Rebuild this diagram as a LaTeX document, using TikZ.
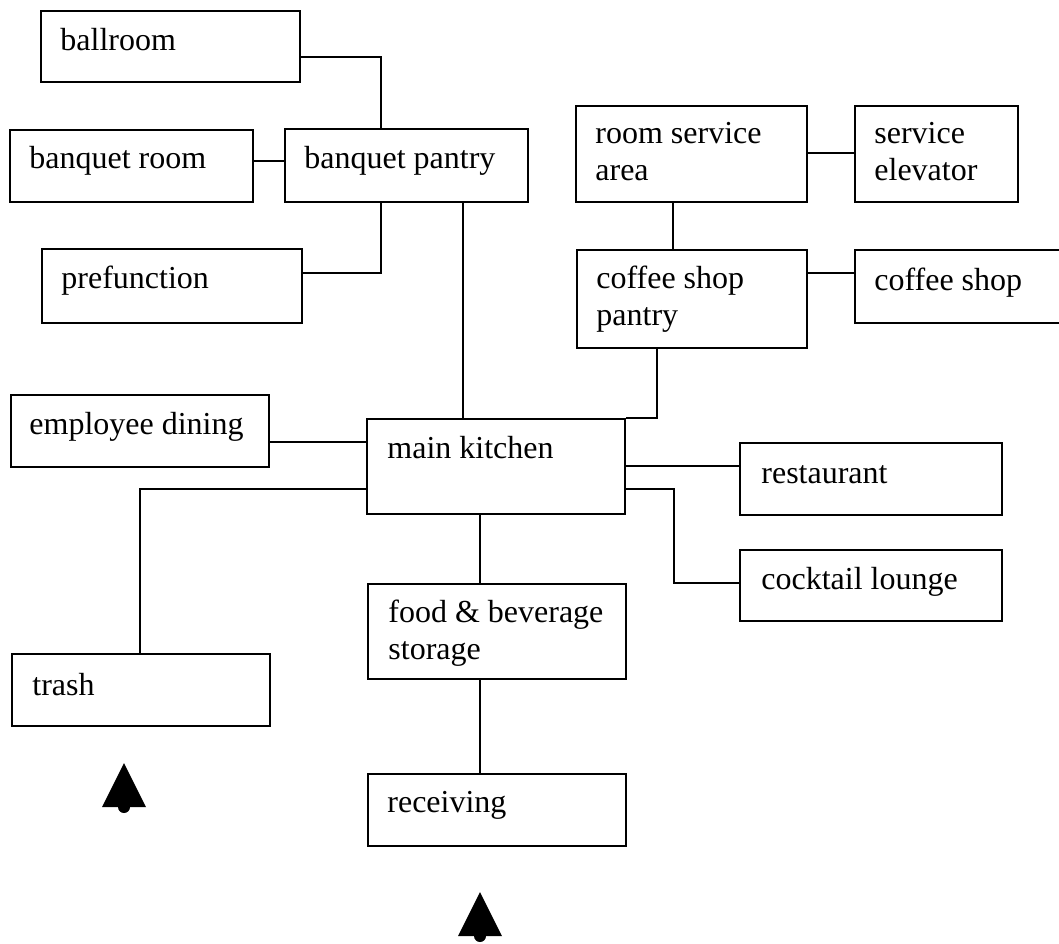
\documentclass[tikz,border=0pt]{standalone}
\usepackage{fontspec}
\setmainfont{Liberation Serif}
\usetikzlibrary{calc}

\tikzset{
  room/.style={draw, line width=1.2pt, anchor=north west, inner sep=0pt},
  tag/.style={anchor=north west, inner sep=0pt, align=left, font=\fontsize{16}{18.5}\selectfont},
  link/.style={line width=1pt}
}

\begin{document}
\begin{tikzpicture}[x=0.5pt,y=-0.5pt]
      \useasboundingbox (0,0) rectangle (1059,943);
      \clip (0,0) rectangle (1059,943);

      % Rooms
      \node[room, minimum width=129.5pt, minimum height=35.5pt] (ballroom) at (40,10) {};
      \node[room, minimum width=121.5pt, minimum height=36pt] (banqroom) at (9,129) {};
      \node[room, minimum width=121.5pt, minimum height=36.5pt] (banqpantry) at (284,128) {};
      \node[room, minimum width=130pt, minimum height=37pt] (prefunc) at (41,248) {};
      \node[room, minimum width=115.5pt, minimum height=48pt] (roomserv) at (575,105) {};
      \node[room, minimum width=81.5pt, minimum height=48pt] (elevator) at (854,105) {};
      \node[room, minimum width=115pt, minimum height=49pt] (shoppantry) at (576,249) {};
      \node[room, minimum width=110pt, minimum height=36.5pt] (coffeeshop) at (854,249) {};
      \node[room, minimum width=129pt, minimum height=36pt] (empdining) at (10,394) {};
      \node[room, minimum width=129pt, minimum height=47.5pt] (kitchen) at (366,418) {};
      \node[room, minimum width=131pt, minimum height=36pt] (restaurant) at (739,442) {};
      \node[room, minimum width=131pt, minimum height=35.5pt] (cocktail) at (739,549) {};
      \node[room, minimum width=129pt, minimum height=47.5pt] (storage) at (367,583) {};
      \node[room, minimum width=129pt, minimum height=36pt] (trash) at (11,653) {};
      \node[room, minimum width=129pt, minimum height=36pt] (receiving) at (367,773) {};

      % Labels
      \node[tag] (ballroomT) at ($(ballroom.north west)+(20,14)$) {\strut ballroom};
      \node[tag] (banqroomT) at ($(banqroom.north west)+(20,13)$) {\strut banquet room};
      \node[tag] (banqpantryT) at ($(banqpantry.north west)+(20,14)$) {\strut banquet pantry};
      \node[tag] (prefuncT) at ($(prefunc.north west)+(20,14)$) {\strut prefunction};
      \node[tag] (roomservT) at ($(roomserv.north west)+(20,12)$) {\strut room service\\\strut area};
      \node[tag] (elevatorT) at ($(elevator.north west)+(20,12)$) {\strut service\\\strut elevator};
      \node[tag] (shoppantryT) at ($(shoppantry.north west)+(20,13)$) {\strut coffee shop\\\strut pantry};
      \node[tag] (coffeeshopT) at ($(coffeeshop.north west)+(20,15)$) {\strut coffee shop};
      \node[tag] (empdiningT) at ($(empdining.north west)+(19,14)$) {\strut employee dining};
      \node[tag] (kitchenT) at ($(kitchen.north west)+(21,14)$) {\strut main kitchen};
      \node[tag] (restaurantT) at ($(restaurant.north west)+(22,15)$) {\strut restaurant};
      \node[tag] (cocktailT) at ($(cocktail.north west)+(22,14)$) {\strut cocktail lounge};
      \node[tag] (storageT) at ($(storage.north west)+(21,13)$) {\strut food \& beverage\\\strut storage};
      \node[tag] (trashT) at ($(trash.north west)+(21,16)$) {\strut trash};
      \node[tag] (receivingT) at ($(receiving.north west)+(20,13)$) {\strut receiving};

      % Banquet side
      \draw[link] (ballroom.east |- 0,57) -| (381,0 |- banqpantry.north);
      \draw[link] (banqroom.east |- 0,161) -- (banqpantry.west |- 0,161);
      \draw[link] (prefunc.east |- 0,273) -| (381,0 |- banqpantry.south);
      \draw[link] (463,0 |- banqpantry.south) -- (463,0 |- kitchen.north);

      % Service side
      \draw[link] (roomserv.east |- 0,153) -- (elevator.west |- 0,153);
      \draw[link] (673,0 |- roomserv.south) -- (673,0 |- shoppantry.north);
      \draw[link] (shoppantry.east |- 0,273) -- (coffeeshop.west |- 0,273);
      \draw[link] (657,0 |- shoppantry.south) |- (kitchen.north east);

      % Around the kitchen
      \draw[link] (empdining.east |- 0,442) -- (kitchen.west |- 0,442);
      \draw[link] (kitchen.east |- 0,466) -- (restaurant.west |- 0,466);
      \coordinate (bend) at (674,583);
      \draw[link] (kitchen.east |- 0,489) -| (bend) -- (cocktail.west |- bend);
      \draw[link] (kitchen.west |- 0,489) -| (140,0 |- trash.north);
      \draw[link] (480,0 |- kitchen.south) -- (480,0 |- storage.north);
      \draw[link] (480,0 |- storage.south) -- (480,0 |- receiving.north);

      % Entry marks
      \foreach \x/\y in {124/763,480/892}
      {
        \fill (\x,\y) -- (\x+22,\y+44) -- (\x-22,\y+44) -- cycle;
        \fill (\x,\y+44) circle[radius=3pt];
      }
  \end{tikzpicture}
\end{document}
